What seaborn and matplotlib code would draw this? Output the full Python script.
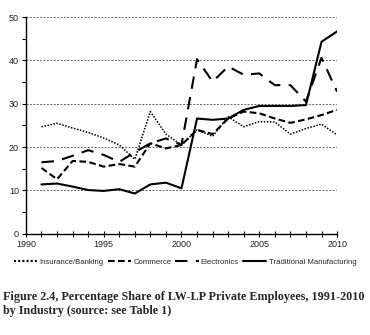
import numpy as np
import pandas as pd
import matplotlib
matplotlib.use("Agg")
import matplotlib.pyplot as plt
import seaborn as sns
from matplotlib.ticker import MultipleLocator

years = list(range(1991, 2011))
insurance = [24.7, 25.5, 24.4, 23.4, 22.1, 20.5, 17.2, 28.2, 23.0, 20.5,
             24.0, 22.5, 27.0, 24.7, 25.9, 25.8, 23.0, 24.3, 25.3, 22.8]
commerce = [15.2, 12.6, 16.8, 16.6, 15.5, 16.1, 15.5, 20.9, 19.7, 20.5,
            24.0, 23.0, 26.6, 28.2, 27.8, 26.6, 25.6, 26.4, 27.4, 28.6]
electronics = [16.5, 16.8, 18.0, 19.3, 18.2, 16.6, 18.8, 20.9, 22.0, 20.5,
               40.3, 35.1, 38.6, 36.7, 37.0, 34.3, 34.3, 30.5, 40.6, 32.8]
traditional = [11.4, 11.6, 10.9, 10.1, 9.9, 10.3, 9.3, 11.4, 11.8, 10.5,
               26.6, 26.3, 26.6, 28.6, 29.5, 29.5, 29.5, 29.7, 44.3, 46.7]
series_names = ["Insurance/Banking", "Commerce", "Electronics", "Traditional Manufacturing"]
x_ticks = [1990, 1995, 2000, 2005, 2010]
y_ticks = [0, 10, 20, 30, 40, 50]
caption = ("Figure 2.4, Percentage Share of LW-LP Private Employees, 1991-2010\n"
           "by Industry (source: see Table 1)")

df = pd.DataFrame({
    "Year": years * 4,
    "Share": insurance + commerce + electronics + traditional,
    "Industry": sum([[n] * len(years) for n in series_names], []),
})

sns.set_theme(style="white")
plt.rcParams["font.family"] = ["Liberation Sans", "DejaVu Sans"]

fig = plt.figure(figsize=(3.70, 3.35), dpi=100)
ax = fig.add_axes([0.070, 0.302, 0.841, 0.647])

dashes = {
    "Insurance/Banking": (1, 1),
    "Commerce": (3.2, 1.6),
    "Electronics": (6, 4),
    "Traditional Manufacturing": "",
}
widths = {"Insurance/Banking": 1.1, "Commerce": 1.5, "Electronics": 1.5,
          "Traditional Manufacturing": 1.5}

sns.lineplot(data=df, x="Year", y="Share", hue="Industry", style="Industry",
             palette={n: "black" for n in series_names}, dashes=dashes,
             hue_order=series_names, style_order=series_names, ax=ax, legend=True)
for line, n in zip(ax.get_lines(), series_names):
    line.set_linewidth(widths[n])

ax.set_xlim(1990, 2010)
ax.set_ylim(0, 50)
ax.set_xticks(x_ticks)
ax.set_yticks(y_ticks)
ax.xaxis.set_minor_locator(MultipleLocator(1))
ax.yaxis.set_minor_locator(MultipleLocator(5))
ax.set_xlabel("")
ax.set_ylabel("")
for y in y_ticks[1:]:
    ax.axhline(y, color="#666666", lw=0.7, ls=(0, (2, 1.5)), zorder=0)

for s in ["top", "right"]:
    ax.spines[s].set_visible(False)
for s in ["left", "bottom"]:
    ax.spines[s].set_color("black")
    ax.spines[s].set_linewidth(1.0)

ax.tick_params(axis="x", which="both", direction="inout", length=5, width=0.8,
               color="black", labelsize=6.5, labelcolor="#222222", pad=2, bottom=True)
ax.tick_params(axis="y", which="both", direction="out", length=3, width=0.8,
               color="black", labelsize=6.5, labelcolor="#222222", pad=2, left=True)

handles, labels = ax.get_legend_handles_labels()
ax.legend_.remove()
fig.legend(handles, labels, loc="center", bbox_to_anchor=(0.5, 0.218), ncol=4,
           frameon=False, fontsize=5.6, handlelength=3.0, handletextpad=0.3,
           columnspacing=0.5, borderaxespad=0)

fig.text(0.008, 0.132, caption, ha="left", va="top", fontsize=8.7,
         fontweight="bold", family=["Liberation Serif", "DejaVu Serif"],
         linespacing=1.3)

fig.savefig("out.png", dpi=100)
